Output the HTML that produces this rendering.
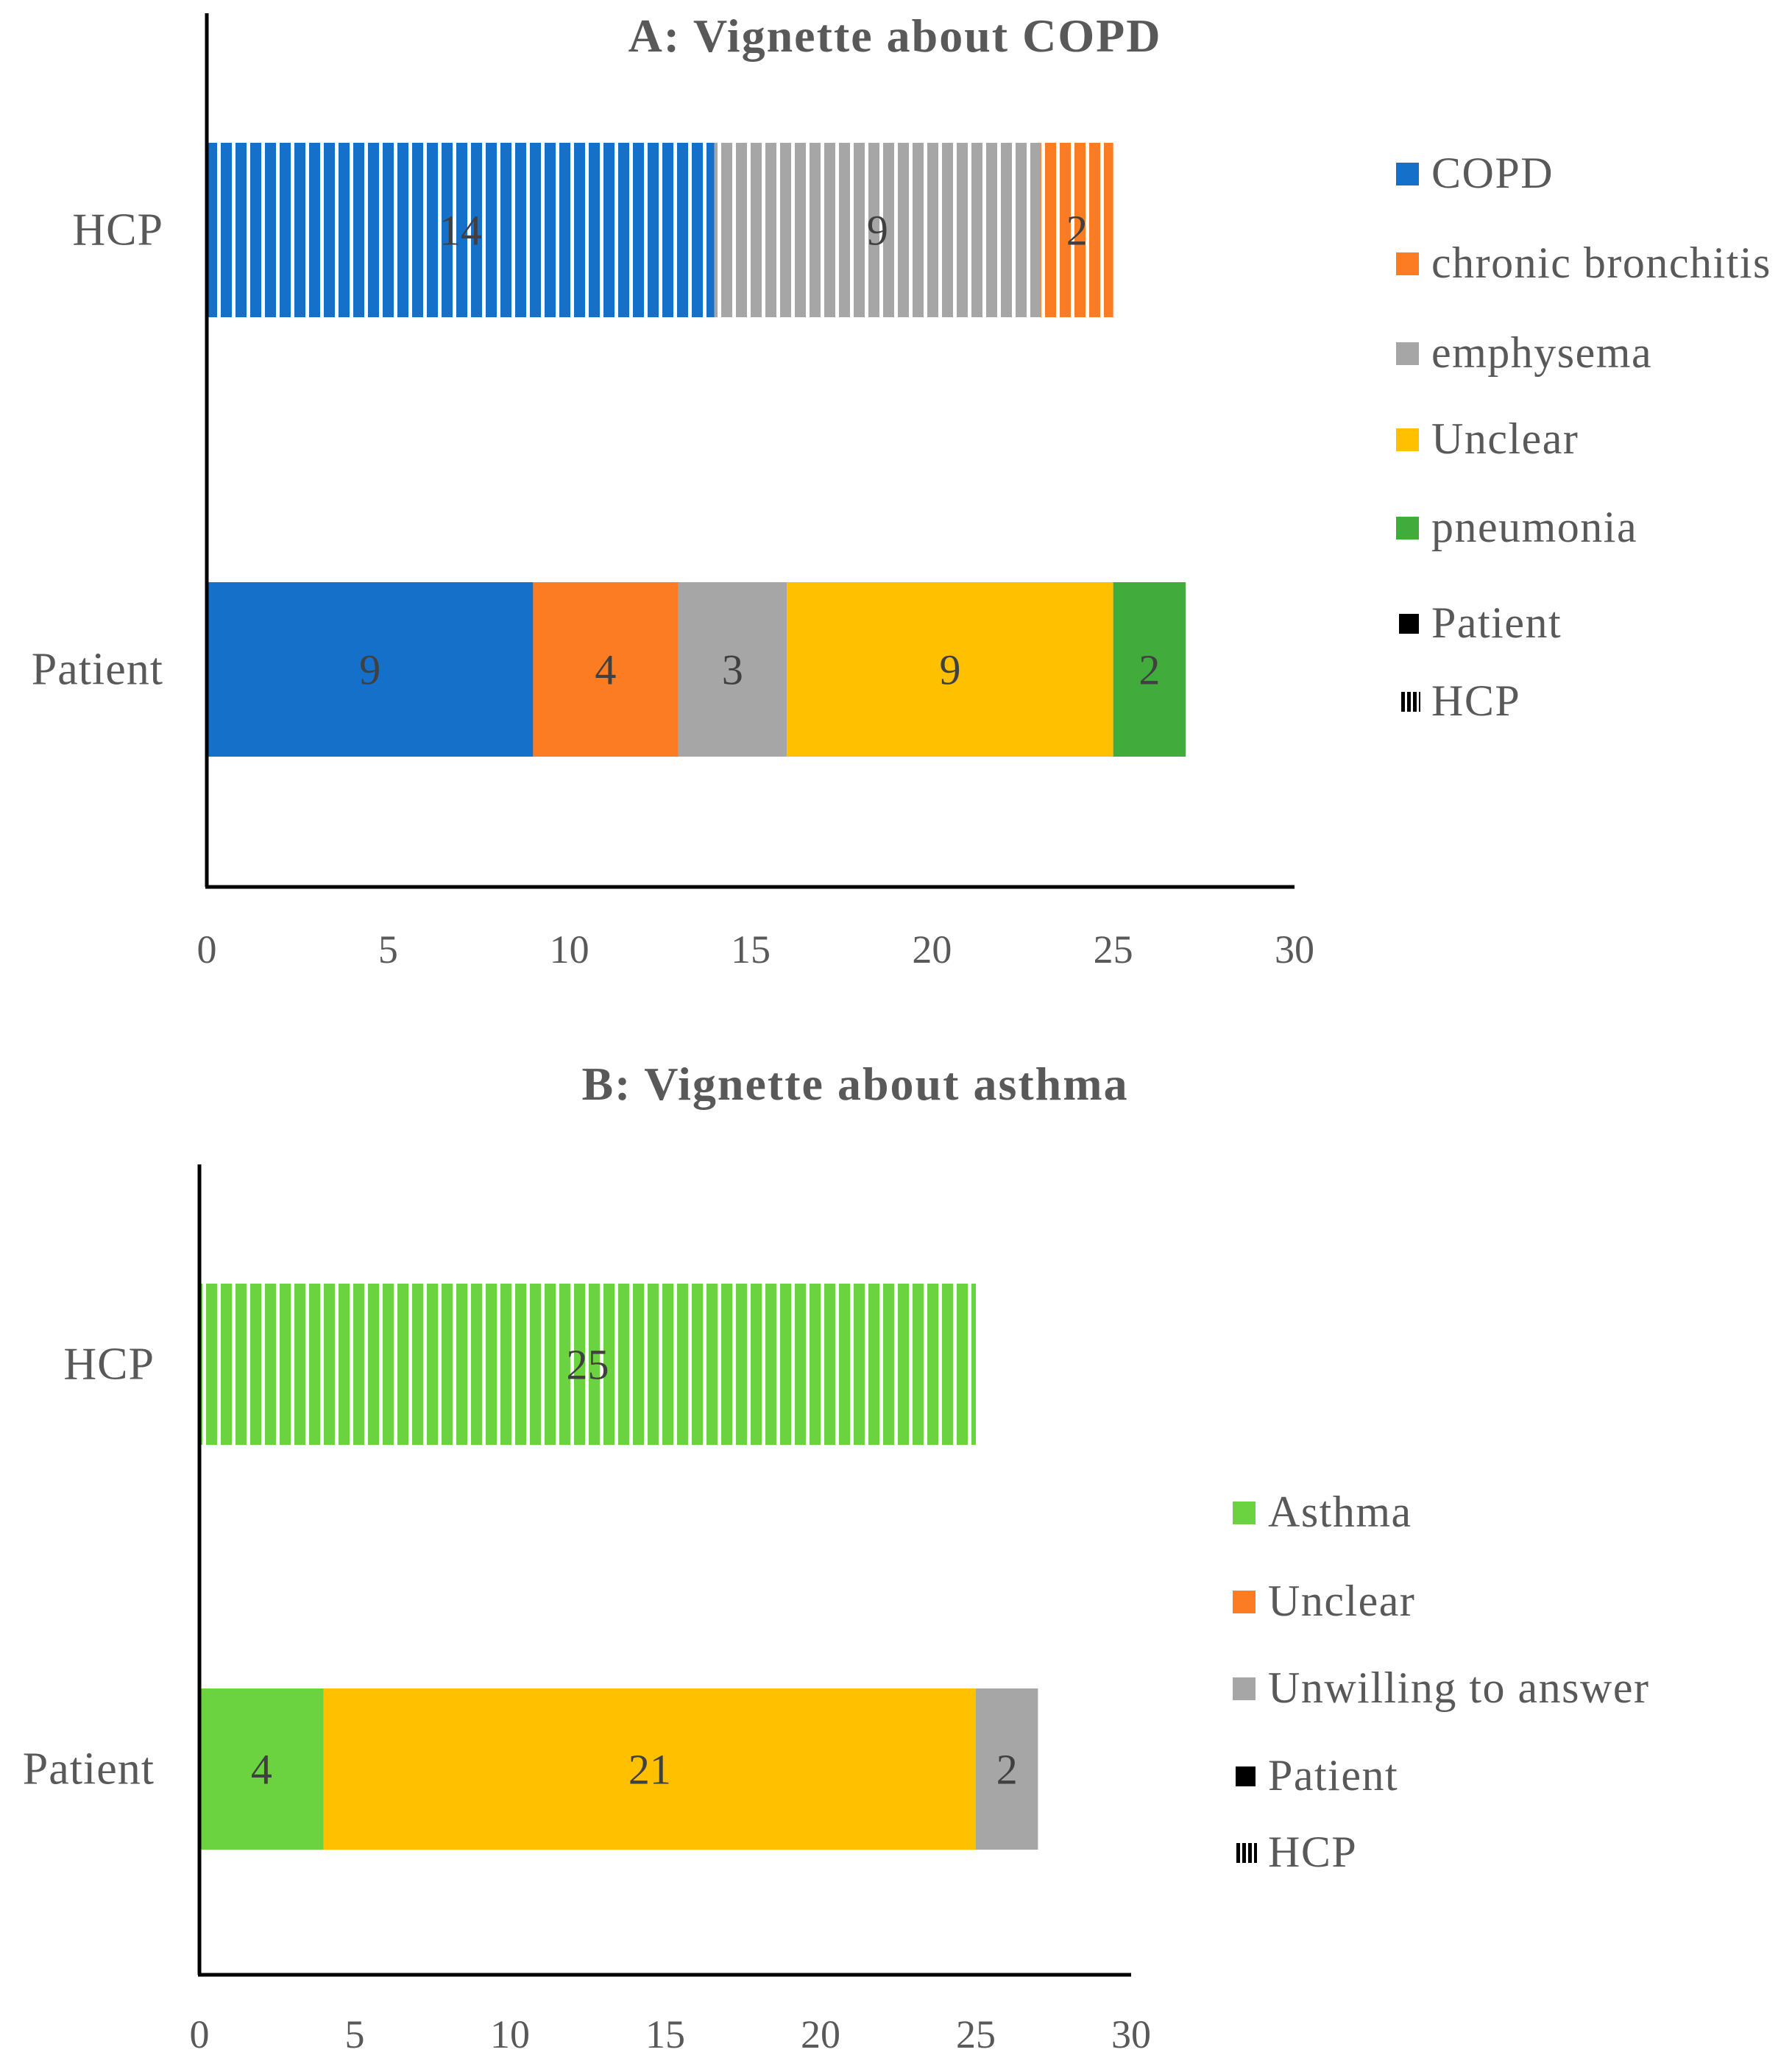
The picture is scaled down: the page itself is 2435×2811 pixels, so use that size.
<!DOCTYPE html>
<html><head><meta charset="utf-8"><style>
html,body{margin:0;padding:0;background:#fff}
svg{display:block;font-family:"Liberation Serif",serif}
</style></head><body>
<svg id="chart" width="2435" height="2811" viewBox="0 0 2435 2811" xmlns="http://www.w3.org/2000/svg">
<defs>
<pattern id="stripe" patternUnits="userSpaceOnUse" width="20" height="10"><rect x="15" y="0" width="5" height="10" fill="#fff"/></pattern>
<pattern id="stripeIcon" patternUnits="userSpaceOnUse" width="8" height="10"><rect x="0" y="0" width="5" height="10" fill="#000"/></pattern>
</defs>
<g id="panelA"></g>
<g id="panelB"></g>
</svg>
<script>
// Panel A data
const aCategories = ["HCP", "Patient"];
const aHcpLabels = ["COPD", "emphysema", "chronic bronchitis"];
const aHcpValues = [14, 9, 2];
const aPatientLabels = ["COPD", "chronic bronchitis", "emphysema", "Unclear", "pneumonia"];
const aPatientValues = [9, 4, 3, 9, 2];
const aTicks = [0, 5, 10, 15, 20, 25, 30];
const aLegend = ["COPD", "chronic bronchitis", "emphysema", "Unclear", "pneumonia"];
// Panel B data
const bCategories = ["HCP", "Patient"];
const bHcpLabels = ["Asthma"];
const bHcpValues = [25];
const bPatientLabels = ["Asthma", "Unclear", "Unwilling to answer"];
const bPatientValues = [4, 21, 2];
const bTicks = [0, 5, 10, 15, 20, 25, 30];
const bLegend = ["Asthma", "Unclear", "Unwilling to answer"];

const colors = {"COPD":"#1570c9","chronic bronchitis":"#fb7c22","emphysema":"#a6a6a6","Unclear":"#ffc000","pneumonia":"#41ab3c","Asthma":"#6cd340","Unwilling to answer":"#a6a6a6"};
const bColors = {"Asthma":"#6cd340","Unclear":"#fb7c22","Unwilling to answer":"#a6a6a6"};
const NS = "http://www.w3.org/2000/svg";
function mk(parent, tag, attrs, text){
  const e = document.createElementNS(NS, tag);
  for (const k in attrs) e.setAttribute(k, attrs[k]);
  if (text !== undefined) e.textContent = text;
  parent.appendChild(e); return e;
}

function drawPanel(g, cfg){
  const x = v => cfg.x0 + (v - 0) / 30 * (cfg.x1 - cfg.x0);
  const t = mk(g, "text", {x: cfg.titleX, y: cfg.titleY, "text-anchor":"middle", "font-size":64, "font-weight":"bold", "letter-spacing":2, fill:"#595959"}, cfg.title);
  
  
  const bars = [[cfg.hcpLabels, cfg.hcpValues, cfg.hcpY, true],[cfg.patLabels, cfg.patValues, cfg.patY, false]];
  bars.forEach((b, bi) => {
    let acc = 0;
    b[0].forEach((lab, i) => {
      const v = b[1][i];
      const xs = x(acc), xe = x(acc + v);
      const r = mk(g, "rect", {x: xs, y: b[2], width: xe - xs, height: cfg.barH, fill: cfg.colors[lab]});
      
      
      if (b[3]) {
        const s = mk(g, "rect", {x: xs, y: b[2], width: xe - xs, height: cfg.barH, fill: "url(#stripe)"});
        
        
      }
      const l = mk(g, "text", {x: (xs + xe) / 2, y: b[2] + cfg.barH / 2 + 20, "text-anchor":"middle", "font-size":58, fill:"#404040"}, String(v));
      
      
      acc += v;
    });
    const c = mk(g, "text", {x: cfg.catX, y: b[2] + cfg.barH / 2 + 20, "text-anchor":"end", "font-size":62, "letter-spacing":1, fill:"#595959"}, cfg.cats[bi]);
    
    
  });
  const ya = mk(g, "line", {x1: cfg.x0, y1: cfg.yTop, x2: cfg.x0, y2: cfg.yBot, stroke:"#000", "stroke-width":5});
  
  
  const xa = mk(g, "line", {x1: cfg.x0 - 2, y1: cfg.yBot, x2: cfg.x1, y2: cfg.yBot, stroke:"#000", "stroke-width":5});
  
  
  cfg.ticks.forEach(tv => {
    const tl = mk(g, "text", {x: x(tv), y: cfg.tickY, "text-anchor":"middle", "font-size":54, fill:"#595959"}, String(tv));
    
    
  });
  cfg.legend.forEach((lab, i) => {
    const cy = cfg.legY[i];
    const sq = mk(g, "rect", {x: cfg.legX, y: cy - 15, width: 31, height: 31, fill: cfg.legColors[lab]});
    
    
    const lt = mk(g, "text", {x: cfg.legX + 48, y: cy + 19, "font-size":60, "letter-spacing":1.5, fill:"#595959"}, lab);
    
    
  });
  const n = cfg.legend.length;
  const py = cfg.legY[n], hy = cfg.legY[n + 1];
  const ps = mk(g, "rect", {x: cfg.legX + 4, y: py - 13, width: 27, height: 27, fill: "#000"});
  
  
  const pt = mk(g, "text", {x: cfg.legX + 48, y: py + 19, "font-size":60, "letter-spacing":1.5, fill:"#595959"}, "Patient");
  
  
  const hs = mk(g, "rect", {x: cfg.legX + 4, y: hy - 13, width: 29, height: 27, fill: "url(#stripeIcon)"});
  
  
  const ht = mk(g, "text", {x: cfg.legX + 48, y: hy + 19, "font-size":60, "letter-spacing":1.5, fill:"#595959"}, "HCP");
  
  
}

drawPanel(document.getElementById("panelA"), {
  title:"A: Vignette about COPD", titleX:1216, titleY:70,
  x0:281, x1:1759, yTop:18, yBot:1205, tickY:1308,
  hcpY:194, patY:791, barH:237, catX:222, cats:aCategories,
  hcpLabels:aHcpLabels, hcpValues:aHcpValues, patLabels:aPatientLabels, patValues:aPatientValues,
  ticks:aTicks, colors:colors, legend:aLegend, legColors:colors,
  legX:1897, legY:[236,358,480,597,717,847,953]
});
drawPanel(document.getElementById("panelB"), {
  title:"B: Vignette about asthma", titleX:1162, titleY:1494,
  x0:271, x1:1537, yTop:1582, yBot:2683, tickY:2782,
  hcpY:1744, patY:2294, barH:219, catX:210, cats:bCategories,
  hcpLabels:bHcpLabels, hcpValues:bHcpValues, patLabels:bPatientLabels, patValues:bPatientValues,
  ticks:bTicks, colors:colors, legend:bLegend, legColors:bColors,
  legX:1675, legY:[2055,2176,2294,2413,2517]
});
</script>
</body></html>
